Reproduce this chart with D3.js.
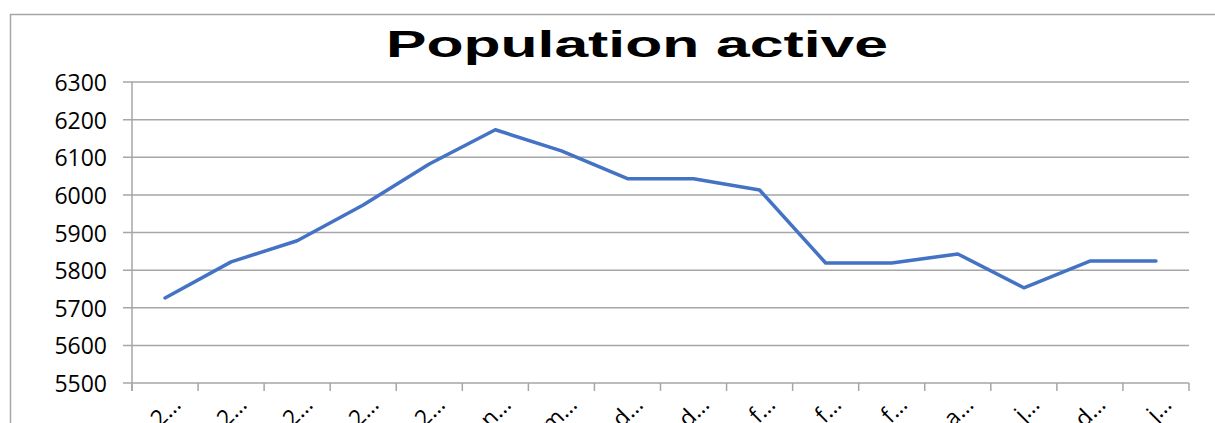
<!DOCTYPE html>
<html>
<head>
<meta charset="utf-8">
<script src="https://cdn.jsdelivr.net/npm/d3@7"></script>
<style>
  body{margin:0;background:#fff;overflow:hidden}
  svg{display:block}
</style>
</head>
<body>
<svg id="chart" width="1215" height="423"></svg>
<script>
// categories as shown (truncated by the chart)
const categories=['2…','2…','2…','2…','2…','n…','m…','d…','d…','f…','f…','f…','a…','j…','d…','j…']
const values=[5726,5822,5878,5973,6082,6173,6117,6043,6043,6013,5819,5819,5843,5753,5824,5824]
const yTicks=[5500,5600,5700,5800,5900,6000,6100,6200,6300]
const title='Population active'

const svg=d3.select('#chart')
const plotLeft=132,plotRight=1189,plotTop=82,plotBottom=383

// outer frame
svg.append('rect')
  .attr('x',10.5).attr('y',14.5)
  .attr('width',1230).attr('height',430)
  .attr('fill','none').attr('stroke','#a6a6a6').attr('stroke-width',1.5)

const x=d3.scaleBand().domain(d3.range(categories.length)).range([plotLeft,plotRight])
const y=d3.scaleLinear().domain([5500,6300]).range([plotBottom,plotTop])

// horizontal grid
svg.append('g')
  .selectAll('line')
  .data(yTicks)
  .enter()
  .append('line')
  .attr('x1',plotLeft-9).attr('x2',plotRight)
  .attr('y1',d=>y(d)).attr('y2',d=>y(d))
  .attr('stroke','#a6a6a6').attr('stroke-width',1.5)

// y axis labels
svg.append('g')
  .selectAll('text')
  .data(yTicks)
  .enter()
  .append('text')
  .attr('x',107).attr('y',d=>y(d))
  .attr('text-anchor','end')
  .attr('dominant-baseline','central')
  .attr('font-family','Open Sans')
  .attr('font-size',23)
  .attr('fill','#000')
  .text(d=>d)

// y axis line
svg.append('line')
  .attr('x1',plotLeft).attr('x2',plotLeft).attr('y1',plotTop).attr('y2',plotBottom+8)
  .attr('stroke','#a6a6a6').attr('stroke-width',1.5)

// x ticks (category boundaries)
svg.append('g')
  .selectAll('line')
  .data(d3.range(categories.length+1))
  .enter()
  .append('line')
  .attr('x1',d=>plotLeft+d*x.step()).attr('x2',d=>plotLeft+d*x.step())
  .attr('y1',plotBottom).attr('y2',plotBottom+8)
  .attr('stroke','#a6a6a6').attr('stroke-width',1.5)

// x labels, rotated
svg.append('g')
  .selectAll('text')
  .data(categories)
  .enter()
  .append('text')
  .attr('transform',(d,i)=>`translate(${x(i)+x.bandwidth()/2+17},${plotBottom+23}) rotate(-45)`)
  .attr('text-anchor','end')
  .attr('font-family','Open Sans')
  .attr('font-size',23)
  .attr('fill','#000')
  .text(d=>d)

// line
const line=d3.line()
  .x((d,i)=>x(i)+x.bandwidth()/2)
  .y(d=>y(d))
svg.append('path')
  .datum(values)
  .attr('d',line)
  .attr('fill','none')
  .attr('stroke','#4472c4')
  .attr('stroke-width',3.5)
  .attr('stroke-linejoin','round')
  .attr('stroke-linecap','round')

// title
svg.append('text')
  .attr('x',386).attr('y',57)
  .attr('font-family','Liberation Sans')
  .attr('font-weight','bold')
  .attr('font-size',37)
  .attr('textLength',502)
  .attr('lengthAdjust','spacingAndGlyphs')
  .attr('fill','#000')
  .text(title)
</script>
</body>
</html>
